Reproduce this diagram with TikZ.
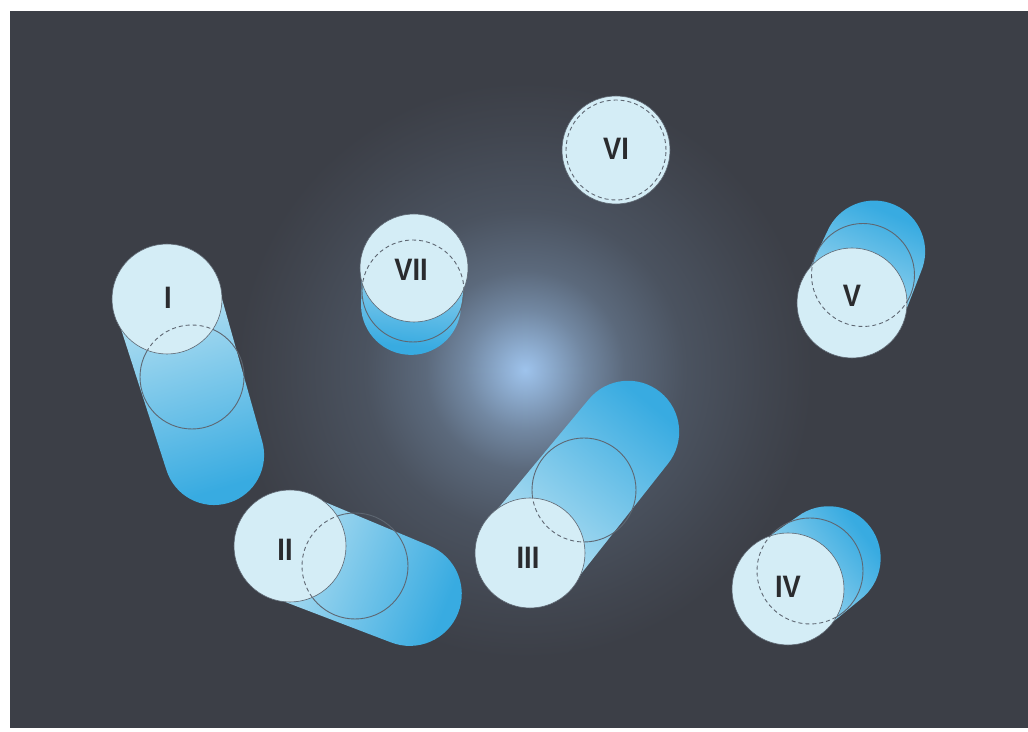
\documentclass[tikz,border=0pt]{standalone}
\usepackage{fontspec}
\setsansfont{Liberation Sans}

\definecolor{bgdark}{HTML}{3C3F47}
\definecolor{glowblue}{HTML}{9EC3EC}
\definecolor{discpale}{HTML}{D4EDF6}
\definecolor{tubeblue}{HTML}{38ABE1}
\definecolor{rimgray}{HTML}{5E6772}
\definecolor{numdark}{HTML}{2A2B2E}

\pgfdeclareradialshading{glow}{\pgfpoint{0bp}{0bp}}{color(0bp)=(glowblue); color(1.7bp)=(glowblue!85!bgdark); color(5bp)=(glowblue!55!bgdark); color(8.3bp)=(glowblue!32!bgdark); color(13.3bp)=(glowblue!15!bgdark); color(20bp)=(glowblue!5!bgdark); color(24bp)=(bgdark); color(50bp)=(bgdark)}
\pgfdeclarehorizontalshading{tube}{100bp}{color(0bp)=(discpale); color(25bp)=(discpale); color(72bp)=(tubeblue); color(100bp)=(tubeblue)}

\tikzset{
  disc/.style={circle, inner sep=0pt, fill=discpale, draw=rimgray, line width=0.6bp},
  rim/.style={draw=rimgray, line width=0.9bp},
  hiddenrim/.style={rim, dash pattern=on 4bp off 3bp},
  numeral/.style={font=\sffamily\bfseries\fontsize{31bp}{31bp}\selectfont, text=numdark, xscale=0.88, inner sep=0pt},
}

\begin{document}
\begin{tikzpicture}[x=1bp,y=1bp]
\useasboundingbox (0,0) rectangle (1028,732);

% Hintergrund mit Lichtfleck
\fill[bgdark] (10,4) rectangle (1028,721);
\shade[shading=glow] (525,362) circle[radius=300];

% Zylinder: Vorderseite, Rueckseite, Mantel
\foreach \nr/\fx/\fy/\rf/\bx/\by/\rb/\ang/\len/\rend/\lx/\ly in {
    I/167/433/55/192/355/52/-73.2/163/50/168/434,
    II/290/186/56/355/166/53/-21.8/129/52/285/182,
    III/530/179/55/584/242/52/51.0/156/51/528/174,
    IV/788/143/56/810/161/53/37.1/51/52/788/145,
    V/852/429/55/863/457/51.5/66.7/56/51/852/436,
    VII/414/464/54/413/441/51/-94.6/37/50/411/462}{
  % Mantel
  \begin{scope}[transform canvas={shift={(\fx,\fy)},rotate=\ang}]
    \shade[shading=tube] (0,\rf-2) -- (\len,\rend)
      arc[start angle=90,end angle=-90,radius=\rend] -- (0,-\rf+2)
      arc[start angle=-90,end angle=-270,radius=\rf-2] -- cycle;
  \end{scope}
  % Rueckseite
  \draw[rim] (\bx,\by) circle[radius=\rb];
  % Vorderseite
  \node[disc, minimum size={2*\rf*1bp}] (d\nr) at (\fx,\fy) {};
  \begin{scope}
    \clip (\fx,\fy) circle[radius=\rf];
    \draw[hiddenrim] (\bx,\by) circle[radius=\rb];
  \end{scope}
  \node[numeral] (n\nr) at (\lx,\ly) {\nr};
}

% Zylinder VI, von vorne
\node[disc, minimum size=108bp] (dVI) at (616,582) {};
\draw[hiddenrim] (dVI.center) circle[radius=50];
\node[numeral] (nVI) at (616,583) {VI};

\end{tikzpicture}
\end{document}
